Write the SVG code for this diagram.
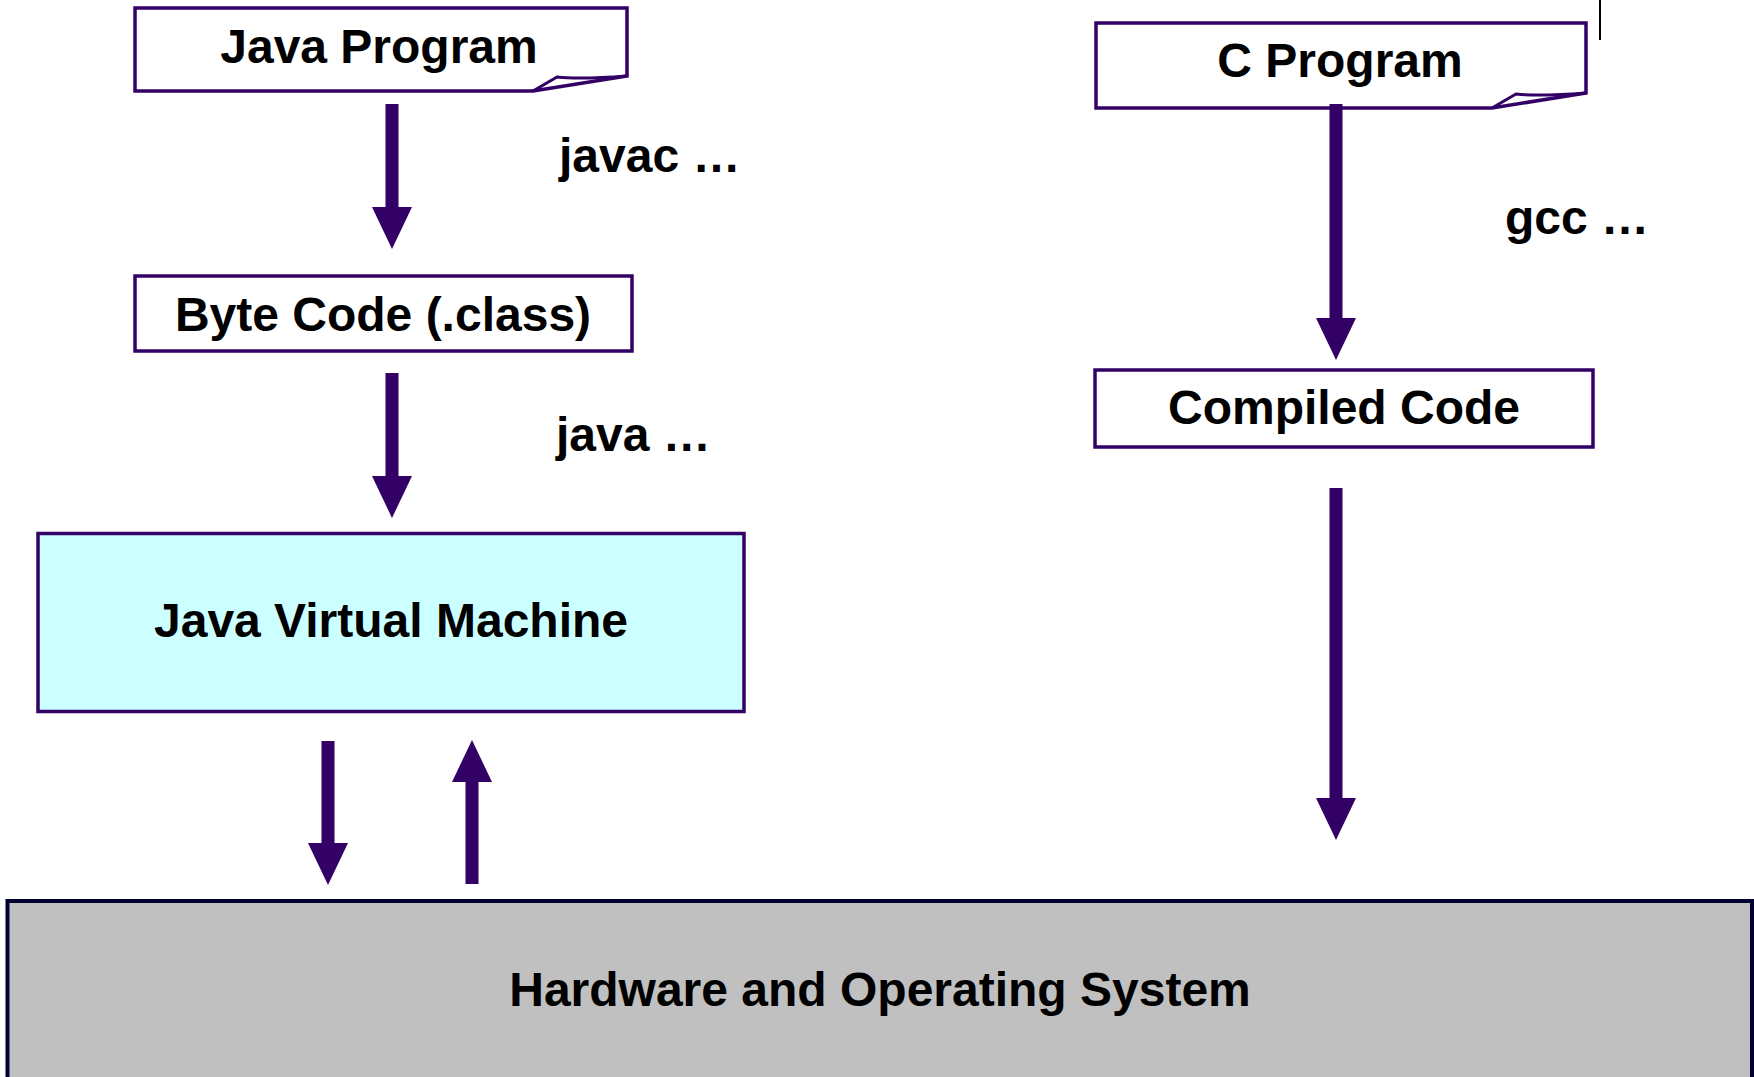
<svg xmlns="http://www.w3.org/2000/svg" width="1754" height="1077" viewBox="0 0 1754 1077">
  <style>
    .box { fill: #ffffff; stroke: #330066; stroke-width: 3.5; stroke-linejoin: miter; }
    .fold { fill: none; stroke: #330066; stroke-width: 3; }
    .jvm { fill: #ccffff; stroke: #330066; stroke-width: 3.5; }
    .hw { fill: #c0c0c0; stroke: #000033; stroke-width: 4; }
    .lbl { font-family: "Liberation Sans", Arial, sans-serif; font-weight: bold; font-size: 48px; fill: #000000; }
    .mid { text-anchor: middle; }
    .flow { stroke: #330066; stroke-width: 13; fill: none; }
  </style>
  <defs>
    <marker id="head" markerUnits="userSpaceOnUse" markerWidth="42" markerHeight="40" viewBox="0 0 42 40" refX="2" refY="20" orient="auto">
      <path d="M0,0 L42,20 L0,40 Z" fill="#330066"/>
    </marker>
  </defs>

  <rect width="1754" height="1077" fill="#ffffff"/>

  <!-- thin mark at the top right -->
  <line x1="1600" y1="0" x2="1600" y2="40" stroke="#000000" stroke-width="2"/>

  <g id="hardware-os">
    <rect class="hw" x="7.5" y="901" width="1744.5" height="200"/>
    <text class="lbl mid" x="880" y="1006">Hardware and Operating System</text>
  </g>

  <g id="java-program">
    <path class="box" d="M135,8 H627 V76 L533,91 H135 Z"/>
    <path class="fold" d="M533,91 L557,77 C575,79 600,78 627,76"/>
    <text class="lbl mid" x="379" y="63">Java Program</text>
  </g>

  <g id="byte-code">
    <rect class="box" x="135" y="276" width="497" height="75"/>
    <text class="lbl mid" x="383" y="331">Byte Code (.class)</text>
  </g>

  <g id="jvm">
    <rect class="jvm" x="38" y="533.5" width="706" height="178"/>
    <text class="lbl mid" x="391" y="637">Java Virtual Machine</text>
  </g>

  <g id="c-program">
    <path class="box" d="M1096,23 H1586 V93 L1492,108 H1096 Z"/>
    <path class="fold" d="M1492,108 L1516,94 C1534,96 1559,95 1586,93"/>
    <text class="lbl mid" x="1340" y="77">C Program</text>
  </g>

  <g id="compiled-code">
    <rect class="box" x="1095" y="370" width="498" height="77"/>
    <text class="lbl mid" x="1344" y="424">Compiled Code</text>
  </g>

  <g id="connectors">
    <line class="flow" x1="392" y1="104" x2="392" y2="209" marker-end="url(#head)"/>
    <line class="flow" x1="392" y1="373" x2="392" y2="478" marker-end="url(#head)"/>
    <line class="flow" x1="1336" y1="104" x2="1336" y2="320" marker-end="url(#head)"/>
    <line class="flow" x1="1336" y1="488" x2="1336" y2="800" marker-end="url(#head)"/>
    <line class="flow" x1="328" y1="741" x2="328" y2="845" marker-end="url(#head)"/>
    <line class="flow" x1="472" y1="884" x2="472" y2="780" marker-end="url(#head)"/>
  </g>

  <g id="labels">
    <text class="lbl" x="559" y="172">javac …</text>
    <text class="lbl" x="556" y="451">java …</text>
    <text class="lbl" x="1505" y="234">gcc …</text>
  </g>
</svg>
